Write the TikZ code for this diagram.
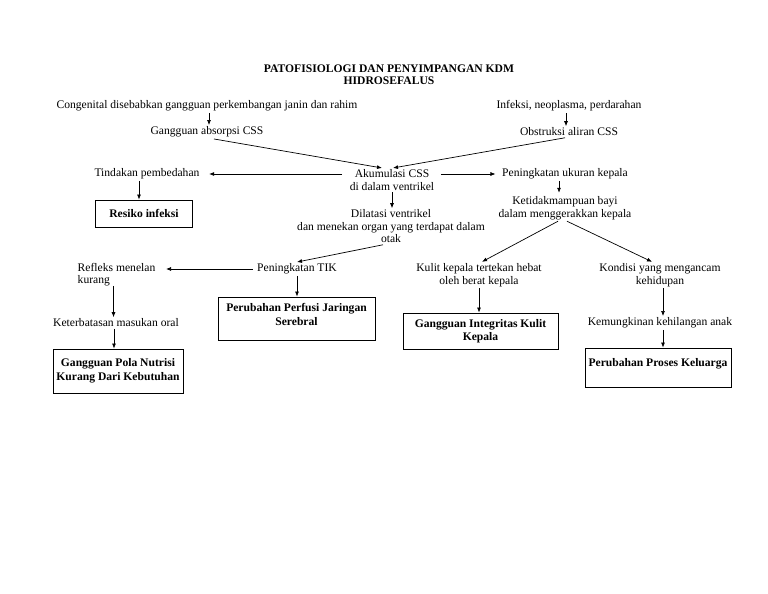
\documentclass[tikz,border=0pt]{standalone}
\usepackage{fontspec}
\setmainfont{Liberation Serif}
\usetikzlibrary{arrows.meta,calc}
\begin{document}
\begin{tikzpicture}[x=1pt,y=-1pt,
  every node/.style={font=\fontsize{11.6}{12.5}\selectfont, inner sep=1.5pt, align=center},
  txt/.style={},
  box/.style={draw, line width=0.9pt, font=\fontsize{11.6}{13.5}\selectfont\bfseries, inner sep=0pt},
  arr/.style={line width=0.7pt, -{Latex[length=5pt,width=4pt]}}]
\useasboundingbox (0,0) rectangle (768,594);
\fill[white] (0,0) rectangle (768,594);

\node (title) at (389,74.5) {\bfseries PATOFISIOLOGI DAN PENYIMPANGAN KDM\\\bfseries HIDROSEFALUS};

\node[txt] (cong) at (207,106) {Congenital disebabkan gangguan perkembangan janin dan rahim};
\node[txt] (gang) at (207,132) {Gangguan absorpsi CSS};
\node[txt] (inf) at (569,106) {Infeksi, neoplasma, perdarahan};
\node[txt] (obs) at (569,132) {Obstruksi aliran CSS};
\node[txt] (aku) at (392,180) {Akumulasi CSS\\di dalam ventrikel};
\node[txt] (tind) at (147,174) {Tindakan pembedahan};
\node[box, minimum width=97pt, minimum height=27pt] (res) at (144,213.5) {Resiko infeksi};
\node[txt] (dil) at (391,226.5) {Dilatasi ventrikel\\dan menekan organ yang terdapat dalam\\otak};
\node[txt] (pen) at (565,174) {Peningkatan ukuran kepala};
\node[txt] (ket) at (565,208) {Ketidakmampuan bayi\\dalam menggerakkan kepala};
\node[txt] (tik) at (297,269) {Peningkatan TIK};
\node[txt, align=left, anchor=west] (ref) at (76,274.5) {Refleks menelan\\kurang};
\node[txt] (kbt) at (116,323) {Keterbatasan masukan oral};
\node[box, minimum width=130pt, minimum height=44pt] (gpn) at (118,371) {Gangguan Pola Nutrisi\\Kurang Dari Kebutuhan};
\node[box, minimum width=157pt, minimum height=43pt] (ppj) at (296.5,318.5) {Perubahan Perfusi Jaringan\\Serebral\\[-5pt]\mbox{}};
\node[txt] (kul) at (479,275) {Kulit kepala tertekan hebat\\oleh berat kepala};
\node[box, minimum width=155pt, minimum height=36pt] (gik) at (480.5,331) {Gangguan Integritas Kulit\\Kepala};
\node[txt] (kon) at (660,275) {Kondisi yang mengancam\\kehidupan};
\node[txt] (kem) at (660,323) {Kemungkinan kehilangan anak};
\node[box, minimum width=146pt, text height=18pt, text depth=21pt] (ppk) at (658,367.5) {Perubahan Proses Keluarga};

\draw[arr] ([xshift=2pt]cong.south) -- ([xshift=2pt]cong.south |- gang.north);
\draw[arr] ([xshift=-3pt]inf.south) -- ([xshift=-3pt]inf.south |- obs.north);
\draw[arr] ([xshift=7pt]gang.south) -- ([xshift=-10pt]aku.north);
\draw[arr] ([xshift=-4pt]obs.south) -- ([xshift=1pt]aku.north);
\draw[arr] ([xshift=-6pt]aku.west |- tind.east) -- ([xshift=8pt]tind.east);
\draw[arr] ([xshift=5pt]aku.east |- pen.west) -- ([xshift=-5pt]pen.west);
\draw[arr] ([xshift=-8pt]tind.south) -- ([xshift=-8pt]tind.south |- res.north);
\draw[arr] (aku.south) -- (aku.south |- dil.north);
\draw[arr] ([xshift=-6pt]pen.south) -- ([xshift=-6pt,yshift=2pt]pen.south |- ket.north);
\draw[arr] ([xshift=-7pt]ket.south) -- ([xshift=3pt]kul.north);
\draw[arr] ([xshift=2pt]ket.south) -- ([xshift=-8pt]kon.north);
\draw[arr] ([xshift=-8pt]dil.south) -- (tik.north);
\draw[arr] ([xshift=-3pt]tik.west) -- ([xshift=9pt]tik.west -| ref.east);
\draw[arr] ([xshift=-3pt,yshift=2pt]ref.south) -- ([xshift=-3pt]ref.south |- kbt.north);
\draw[arr] ([xshift=-2pt]kbt.south) -- ([xshift=-2pt]kbt.south |- gpn.north);
\draw[arr] (tik.south) -- (tik.south |- ppj.north);
\draw[arr] (kul.south) -- (kul.south |- gik.north);
\draw[arr] ([xshift=3pt]kon.south) -- ([xshift=3pt]kon.south |- kem.north);
\draw[arr] ([xshift=3pt]kem.south) -- ([xshift=3pt]kem.south |- ppk.north);
\end{tikzpicture}
\end{document}
